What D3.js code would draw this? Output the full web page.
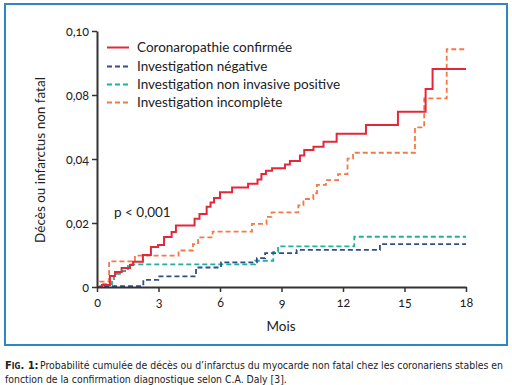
<!DOCTYPE html>
<html><head><meta charset="utf-8">
<script src="https://cdn.jsdelivr.net/npm/d3@7"></script>
<style>body{margin:0;background:#fff} svg{display:block}</style>
</head><body><svg id="c" width="512" height="385"></svg>
<script>
// ---- data ----
const seriesNames = ["Coronaropathie confirmée", "Investigation négative", "Investigation non invasive positive", "Investigation incomplète"];
const redMonths  = [0, 0.24, 0.63, 0.88, 1.20, 1.61, 1.76, 2.24, 2.63, 2.98, 3.27, 3.64, 3.85, 4.76, 5.00, 5.35, 5.54, 5.71, 6.00, 6.59, 7.37, 7.83, 8.02, 8.24, 8.54, 9.17, 9.41, 9.90, 10.11, 10.56, 11.05, 11.69, 13.12, 14.68, 16.03, 16.37, 18];
const redValues  = [0, 0.0006, 0.0034, 0.0047, 0.0059, 0.0069, 0.0079, 0.0100, 0.0125, 0.0131, 0.0156, 0.0172, 0.0192, 0.0213, 0.0228, 0.0251, 0.0264, 0.0278, 0.0296, 0.0311, 0.0323, 0.0336, 0.0353, 0.0363, 0.0371, 0.0383, 0.0394, 0.0422, 0.0456, 0.0477, 0.0508, 0.0558, 0.0613, 0.0696, 0.0819, 0.0881, 0.0881];
const negMonths  = [0, 0.29, 2.26, 2.99, 4.83, 6.05, 7.80, 8.20, 9.74, 13.80, 18];
const negValues  = [0, 0.0003, 0.0022, 0.0033, 0.0061, 0.0077, 0.0090, 0.0106, 0.0116, 0.0134, 0.0134];
const posMonths  = [0, 0.20, 0.73, 0.83, 1.17, 1.51, 7.71, 8.60, 8.83, 12.55, 18];
const posValues  = [0, 0.0009, 0.0019, 0.0041, 0.0050, 0.0071, 0.0082, 0.0110, 0.0127, 0.0157, 0.0157];
const incMonths  = [0, 0.15, 0.59, 1.85, 3.98, 4.68, 4.93, 5.64, 7.56, 8.27, 8.52, 9.82, 10.07, 10.55, 10.73, 11.17, 11.76, 12.22, 12.49, 15.51, 15.96, 17.06, 18];
const incValues  = [0, 0.0017, 0.0080, 0.0098, 0.0114, 0.0134, 0.0155, 0.0173, 0.0197, 0.0219, 0.0233, 0.0255, 0.0275, 0.0293, 0.0319, 0.0334, 0.0353, 0.0402, 0.0439, 0.0598, 0.0779, 0.0943, 0.0943];
const xTicks = [0, 3, 6, 9, 12, 15, 18];
const yTicks = [0, 0.02, 0.04, 0.08, 0.10];
const yTickLabels = ["0", "0,02", "0,04", "0,08", "0,10"];
const xTitle = "Mois";
const yTitle = "Décès ou infarctus non fatal";
const pText = "p < 0,001";
const captionBold = "Fig. 1:";
const captionLine1 = "Probabilité cumulée de décès ou d’infarctus du myocarde non fatal chez les coronariens stables en";
const captionLine2 = "fonction de la confirmation diagnostique selon C.A. Daly [3].";

// ---- drawing ----
const svg = d3.select("#c");
const FONT = "Lato, 'Open Sans', sans-serif";
const CAPFONT = "'Liberation Sans Narrow', 'DejaVu Sans Condensed', 'Open Sans', sans-serif";
const colors = ["#e4283b", "#2f4e8c", "#1fb09c", "#f27a48"];
const dashes = [null, "5,3", "5,3", "5,3"];
const series = [
  redMonths.map((m, i) => [m, redValues[i]]),
  negMonths.map((m, i) => [m, negValues[i]]),
  posMonths.map((m, i) => [m, posValues[i]]),
  incMonths.map((m, i) => [m, incValues[i]])
];

// frame
svg.append("rect").attr("x", 5).attr("y", 4).attr("width", 502).attr("height", 341)
  .attr("fill", "none").attr("stroke", "#2f86c3").attr("stroke-width", 2);

const x = d3.scaleLinear().domain([0, 18]).range([97, 466]);
const y = d3.scaleLinear().domain(yTicks).range([287, 223, 159, 95, 31]);

const line = d3.line().x(d => x(d[0])).y(d => y(d[1])).curve(d3.curveStepAfter);
[2, 1, 3, 0].forEach(i => {
  svg.append("path").datum(series[i]).attr("d", line)
    .attr("fill", "none").attr("stroke", colors[i])
    .attr("stroke-width", i === 0 ? 2 : 1.8)
    .attr("stroke-dasharray", dashes[i]);
});

const xAxis = svg.append("g").attr("transform", "translate(0,287)")
  .call(d3.axisBottom(x).tickValues(xTicks).tickSize(5).tickSizeOuter(0));
const yAxis = svg.append("g").attr("transform", "translate(97,0)")
  .call(d3.axisLeft(y).tickValues(yTicks).tickFormat((d, i) => yTickLabels[i]).tickSize(5).tickSizeOuter(0));
[xAxis, yAxis].forEach(g => {
  g.select(".domain").attr("stroke", "#333").attr("stroke-width", 2);
  g.selectAll(".tick line").attr("stroke", "#333").attr("stroke-width", 1.5);
  g.selectAll(".tick text").attr("fill", "#222").attr("font-family", FONT).attr("font-size", 12.5)
    .style("font-variant-numeric", "oldstyle-nums");
});
xAxis.selectAll(".tick text").attr("y", 11);
yAxis.selectAll(".tick text").attr("x", -8);

svg.append("text").attr("x", 281).attr("y", 331).attr("text-anchor", "middle")
  .attr("font-family", FONT).attr("font-size", 13.5).attr("fill", "#222").text(xTitle);
svg.append("text").attr("transform", "translate(45,160) rotate(-90)").attr("text-anchor", "middle")
  .attr("font-family", FONT).attr("font-size", 13.5).attr("fill", "#222").text(yTitle);
svg.append("text").attr("x", 114).attr("y", 217)
  .attr("font-family", FONT).attr("font-size", 13.5).attr("fill", "#222").text(pText);

// legend
const legY = [47.5, 66.5, 84.5, 102.5];
seriesNames.forEach((name, i) => {
  svg.append("line").attr("x1", 107).attr("x2", 129).attr("y1", legY[i]).attr("y2", legY[i])
    .attr("stroke", colors[i]).attr("stroke-width", i === 0 ? 2 : 1.8).attr("stroke-dasharray", dashes[i]);
  svg.append("text").attr("x", 137).attr("y", legY[i] + 4.5)
    .attr("font-family", FONT).attr("font-size", 13.5).attr("fill", "#222").text(name);
});

// caption: fit each piece to its width by adjusting font size
function fitText(sel, target, base) {
  sel.attr("font-size", base);
  const w = sel.node().getComputedTextLength();
  if (w > target) sel.attr("font-size", base * target / w);
}
const capB = svg.append("text").attr("x", 5).attr("y", 369)
  .attr("font-family", CAPFONT).attr("font-weight", "bold").attr("fill", "#222")
  .style("font-variant", "small-caps").text(captionBold);
fitText(capB, 33, 12);
const c1 = svg.append("text").attr("x", 40).attr("y", 369)
  .attr("font-family", CAPFONT).attr("fill", "#222").text(captionLine1);
fitText(c1, 464, 12);
const c2 = svg.append("text").attr("x", 5).attr("y", 383)
  .attr("font-family", CAPFONT).attr("fill", "#222").text(captionLine2);
fitText(c2, 282, 12);
</script></body></html>
